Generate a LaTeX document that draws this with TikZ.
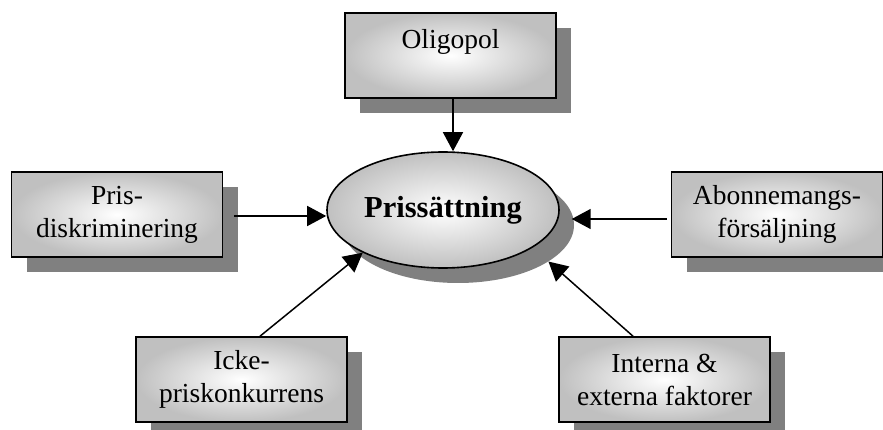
\documentclass[tikz,border=0pt]{standalone}
\usepackage{fontspec}
\setmainfont{Liberation Serif}
\usetikzlibrary{shapes.geometric,arrows.meta,shadows}
\definecolor{boxgray}{RGB}{192,192,192}
\definecolor{shadowgray}{RGB}{128,128,128}
\begin{document}
\begin{tikzpicture}[x=1pt,y=-1pt,
  shadowed/.style={drop shadow={shadow xshift=15pt,shadow yshift=-15pt,fill=shadowgray,opacity=1}},
  factor/.style={rectangle,draw=black,line width=1.6pt,minimum width=211pt,minimum height=85pt,
    inner sep=0pt,align=center,font=\fontsize{27.5}{33}\selectfont,
    inner color=white,outer color=boxgray,shadowed},
  centre/.style={ellipse,draw=black,line width=1.6pt,minimum width=232pt,minimum height=116pt,
    inner sep=0pt,font=\bfseries\fontsize{30.5}{36}\selectfont,
    inner color=white,outer color=boxgray,shadowed},
  ghost/.style={ellipse,minimum width=232pt,minimum height=116pt,inner sep=0pt},
  conn/.style={line width=1.5pt,-{Triangle[length=19pt,width=20pt]}}]
\fill[white] (0,0) rectangle (883,430);
\useasboundingbox (0,0) rectangle (883,430);

\node[ghost] (prcsh) at (458,225) {};
\node[centre] (prc) at (443,210) {Prissättning};

\node[factor] (olig) at (450.5,55.5) {Oligopol\\\mbox{}};
\node[factor] (pris) at (117,214.5) {Pris-\\diskriminering};
\node[factor] (abo) at (777,214.5) {Abonnemangs-\\försäljning};
\node[factor] (icke) at (241.5,379.5) {Icke-\\priskonkurrens};
\node[factor] (intf) at (664.5,379.5) {Interna \&\\externa faktorer};

\draw[conn] ([xshift=2.5pt]olig.south) -- ([xshift=2.5pt]olig.south |- prc.north);
\draw[conn] ([xshift=11pt,yshift=-1.5pt]pris.east) -- ([yshift=-1.5pt]pris.east -| prc.west);
\draw[conn] ([xshift=-4pt,yshift=-4.5pt]abo.west) -- ([yshift=-4.5pt]abo.west -| prcsh.6);
\draw[conn] ([xshift=18.5pt]icke.north) -- (prc.208);
\draw[conn] ([xshift=-31.5pt]intf.north) -- (prcsh.338);
\end{tikzpicture}
\end{document}
